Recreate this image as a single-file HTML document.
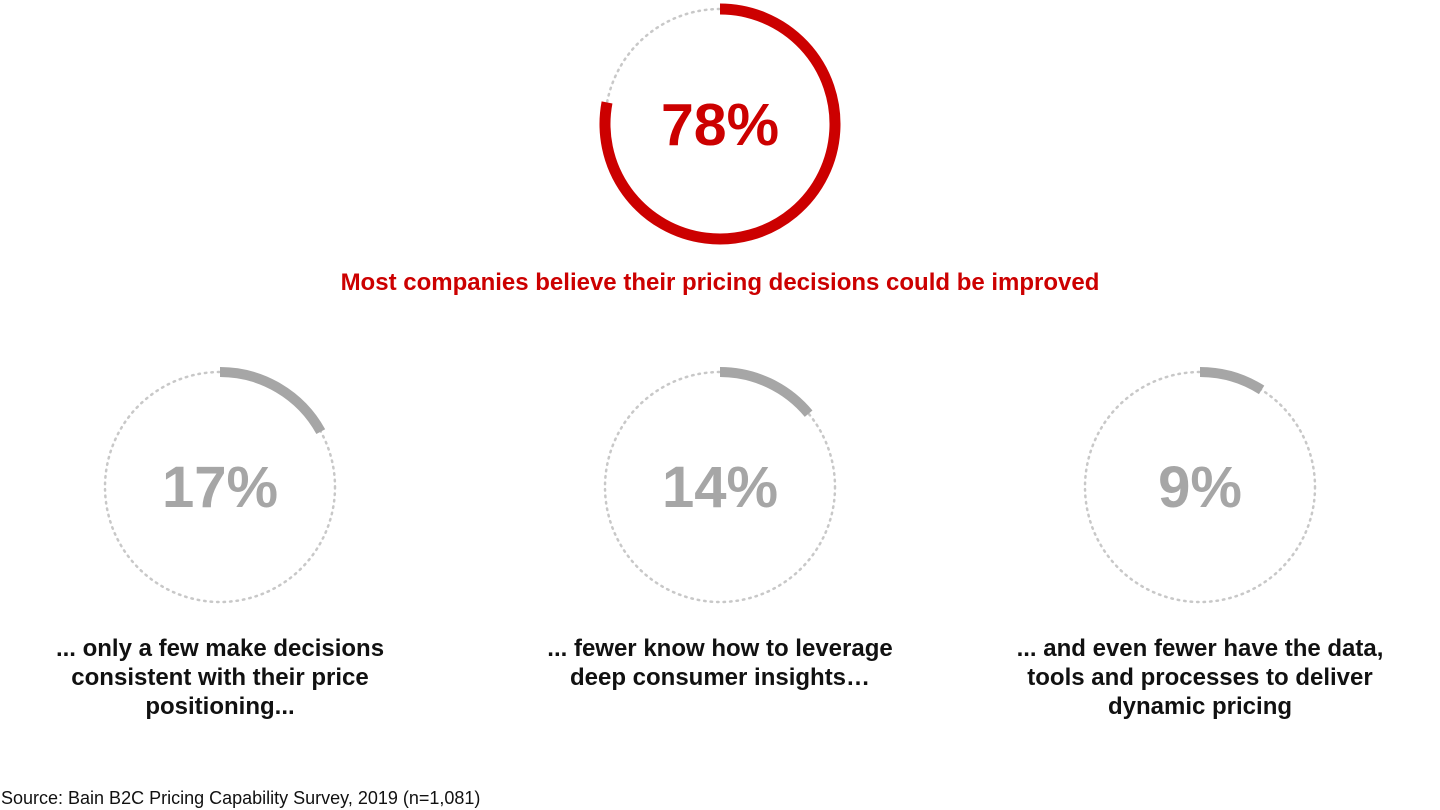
<!DOCTYPE html>
<html><head><meta charset="utf-8"><style>
html,body{margin:0;padding:0;background:#fff;}
body{width:1440px;height:810px;position:relative;overflow:hidden;font-family:"Liberation Sans",Arial,sans-serif;}
.cap{position:absolute;width:480px;text-align:center;font-weight:bold;font-size:24px;line-height:29px;color:#111;}
</style></head><body>
<svg id="chart" width="1440" height="810" style="position:absolute;left:0;top:0"></svg>
<div class="cap" style="left:-20px;top:634px">... only a few make decisions<br>consistent with their price<br>positioning...</div>
<div class="cap" style="left:480px;top:634px">... fewer know how to leverage<br>deep consumer insights…</div>
<div class="cap" style="left:960px;top:634px">... and even fewer have the data,<br>tools and processes to deliver<br>dynamic pricing</div>
<div style="position:absolute;left:0;width:1440px;top:269px;text-align:center;color:#cc0000;font-weight:bold;font-size:24px;">Most companies believe their pricing decisions could be improved</div>
<div style="position:absolute;left:1px;top:788px;font-size:18px;color:#111;">Source: Bain B2C Pricing Capability Survey, 2019 (n=1,081)</div>
<script>
const labels=["78%","17%","14%","9%"];
const values=[78,17,14,9];
const names=["donut-main","donut-consistent","donut-insights","donut-dynamic"];
const centersX=[720,220,720,1200];
const centersY=[124,487,487,487];
const svg=document.getElementById('chart');
const NS="http://www.w3.org/2000/svg";
const R=115;
function pt(cx,cy,frac){const a=frac*2*Math.PI;return [cx+R*Math.sin(a),cy-R*Math.cos(a)];}
values.forEach((v,i)=>{
  const cx=centersX[i],cy=centersY[i],main=i===0;
  const g=document.createElementNS(NS,'g');
  
  
  const c=document.createElementNS(NS,'circle');
  
  
  c.setAttribute('cx',cx);c.setAttribute('cy',cy);c.setAttribute('r',R);
  c.setAttribute('fill','none');c.setAttribute('stroke','#c8c8c8');c.setAttribute('stroke-width','2.5');
  c.setAttribute('stroke-dasharray','1.5 5');c.setAttribute('stroke-linecap','round');
  g.appendChild(c);
  const f=v/100;const [x0,y0]=pt(cx,cy,0);const [x1,y1]=pt(cx,cy,f);
  const p=document.createElementNS(NS,'path');
  
  
  p.setAttribute('d',`M${x0},${y0} A${R},${R} 0 ${f>0.5?1:0} 1 ${x1},${y1}`);
  p.setAttribute('fill','none');p.setAttribute('stroke',main?'#cc0000':'#a6a6a6');
  p.setAttribute('stroke-width',main?11:10);
  g.appendChild(p);
  const t=document.createElementNS(NS,'text');
  
  
  t.setAttribute('x',cx);t.setAttribute('y',cy+(main?21:20));t.setAttribute('text-anchor','middle');
  t.setAttribute('font-family','"Liberation Sans",Arial,sans-serif');t.setAttribute('font-weight','bold');
  t.setAttribute('font-size',main?59:58);t.setAttribute('fill',main?'#cc0000':'#a6a6a6');
  t.textContent=labels[i];
  g.appendChild(t);
  svg.appendChild(g);
});
</script>
</body></html>
